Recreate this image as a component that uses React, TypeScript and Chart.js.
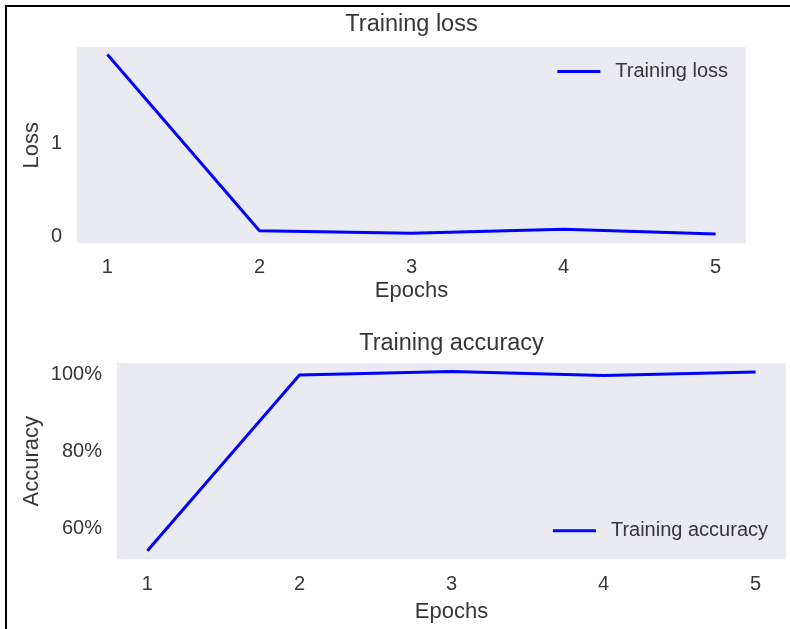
import React, { useEffect, useRef } from 'react';
import { Chart, registerables } from 'chart.js';

Chart.register(...registerables);

// ---- data ----
const epochs = [1, 2, 3, 4, 5];
const trainingLoss = [1.952, 0.065, 0.037, 0.08, 0.029];
const trainingAccuracy = [0.542, 0.998, 1.007, 0.997, 1.006];
const lossTicks = [0, 1];
const accuracyTicks = [0.6, 0.8, 1.0];
const epochTicks = [1, 2, 3, 4, 5];

const FONT = "'Liberation Sans', Arial, sans-serif";
const TEXT = '#363636';
const PLOT_BG = '#EAEAF2';
const LINE = '#0000FF';

const plotBackground = {
  id: 'plotBackground',
  beforeDraw(chart: any) {
    const { ctx, chartArea } = chart;
    ctx.save();
    ctx.fillStyle = PLOT_BG;
    ctx.fillRect(chartArea.left, chartArea.top, chartArea.right - chartArea.left, chartArea.bottom - chartArea.top);
    ctx.restore();
  },
};

const innerLegend = {
  id: 'innerLegend',
  afterDatasetsDraw(chart: any, _args: any, opts: any) {
    const { ctx, chartArea } = chart;
    const ds = chart.data.datasets[0];
    ctx.save();
    ctx.font = `20px ${FONT}`;
    const w = ctx.measureText(ds.label).width;
    const textX = chartArea.right - 18 - w;
    const y = opts.pos === 'top' ? chartArea.top + opts.offset : chartArea.bottom - opts.offset;
    const lineEnd = textX - 15;
    const lineStart = lineEnd - 43;
    ctx.strokeStyle = ds.borderColor;
    ctx.lineWidth = 3;
    ctx.beginPath();
    ctx.moveTo(lineStart, y);
    ctx.lineTo(lineEnd, y);
    ctx.stroke();
    ctx.fillStyle = TEXT;
    ctx.textBaseline = 'middle';
    ctx.textAlign = 'left';
    ctx.fillText(ds.label, textX, y);
    ctx.restore();
  },
};

type Cfg = {
  title: string;
  label: string;
  values: number[];
  yLabel: string;
  yTicks: number[];
  yFmt: (v: number) => string;
  yMin: number;
  yMax: number;
  yAxisWidth: number;
  xAxisHeight: number;
  titlePad: { top: number; bottom: number };
  xTitlePadBottom: number;
  xTickPad: number;
  padRight: number;
  legendPos: 'top' | 'bottom';
  legendOffset: number;
};

function makeConfig(c: Cfg): any {
  return {
    type: 'line',
    data: {
      datasets: [
        {
          label: c.label,
          data: epochs.map((e, i) => ({ x: e, y: c.values[i] })),
          borderColor: LINE,
          backgroundColor: LINE,
          borderWidth: 3,
          pointRadius: 0,
          tension: 0,
          fill: false,
        },
      ],
    },
    options: {
      responsive: false,
      animation: false,
      devicePixelRatio: 1,
      layout: { padding: { left: 0, right: c.padRight, top: 0, bottom: 0 } },
      plugins: {
        legend: { display: false },
        tooltip: { enabled: false },
        title: {
          display: true,
          text: c.title,
          fullSize: false,
          color: TEXT,
          font: { family: FONT, size: 23.5, weight: 'normal', lineHeight: 1.2 },
          padding: c.titlePad,
        },
        innerLegend: { pos: c.legendPos, offset: c.legendOffset },
      },
      scales: {
        x: {
          type: 'linear',
          min: 0.8,
          max: 5.2,
          grid: { display: false, drawTicks: false },
          border: { display: false },
          afterBuildTicks: (s: any) => {
            s.ticks = epochTicks.map((v) => ({ value: v }));
          },
          afterFit: (s: any) => {
            s.height = c.xAxisHeight;
          },
          ticks: {
            color: TEXT,
            padding: c.xTickPad,
            font: { family: FONT, size: 20 },
            callback: (v: number) => String(v),
          },
          title: {
            display: true,
            text: 'Epochs',
            color: TEXT,
            font: { family: FONT, size: 22 },
            padding: { top: 0, bottom: c.xTitlePadBottom },
          },
        },
        y: {
          type: 'linear',
          min: c.yMin,
          max: c.yMax,
          grid: { display: false, drawTicks: false },
          border: { display: false },
          afterBuildTicks: (s: any) => {
            s.ticks = c.yTicks.map((v) => ({ value: v }));
          },
          afterFit: (s: any) => {
            s.width = c.yAxisWidth;
          },
          ticks: {
            color: TEXT,
            padding: 15,
            font: { family: FONT, size: 20 },
            callback: (v: number) => c.yFmt(v),
          },
          title: {
            display: true,
            text: c.yLabel,
            color: TEXT,
            font: { family: FONT, size: 22 },
            padding: { top: 19, bottom: 0 },
          },
        },
      },
    },
    plugins: [plotBackground, innerLegend],
  };
}

function LineChart({ cfg, top, height }: { cfg: Cfg; top: number; height: number }) {
  const ref = useRef<HTMLCanvasElement | null>(null);
  useEffect(() => {
    if (!ref.current) return;
    const chart = new Chart(ref.current, makeConfig(cfg));
    return () => chart.destroy();
  }, []);
  return (
    <canvas
      ref={ref}
      width={790}
      height={height}
      style={{ position: 'absolute', left: 0, top, width: 790, height }}
    />
  );
}

const lossCfg: Cfg = {
  title: 'Training loss',
  label: 'Training loss',
  values: trainingLoss,
  yLabel: 'Loss',
  yTicks: lossTicks,
  yFmt: (v) => String(v),
  yMin: -0.07,
  yMax: 2.03,
  yAxisWidth: 77,
  xAxisHeight: 66.7,
  titlePad: { top: 10, bottom: 9.1 },
  xTitlePadBottom: 5.5,
  xTickPad: 12.5,
  padRight: 44,
  legendPos: 'top',
  legendOffset: 24.3,
};

const accCfg: Cfg = {
  title: 'Training accuracy',
  label: 'Training accuracy',
  values: trainingAccuracy,
  yLabel: 'Accuracy',
  yTicks: accuracyTicks,
  yFmt: (v) => `${Math.round(v * 100)}%`,
  yMin: 0.52,
  yMax: 1.029,
  yAxisWidth: 117,
  xAxisHeight: 69.7,
  titlePad: { top: 19.7, bottom: 5.2 },
  xTitlePadBottom: 3.8,
  xTickPad: 13,
  padRight: 4,
  legendPos: 'bottom',
  legendOffset: 28.6,
};

export default function App() {
  return (
    <div style={{ position: 'absolute', left: 0, top: 0, width: 790, height: 629, background: '#ffffff', overflow: 'hidden' }}>
      <div
        style={{
          position: 'absolute',
          left: 5,
          top: 5,
          width: 800,
          height: 640,
          borderTop: '2px solid #000',
          borderLeft: '2px solid #000',
        }}
      />
      <LineChart cfg={lossCfg} top={0} height={310} />
      <LineChart cfg={accCfg} top={310} height={319} />
    </div>
  );
}
